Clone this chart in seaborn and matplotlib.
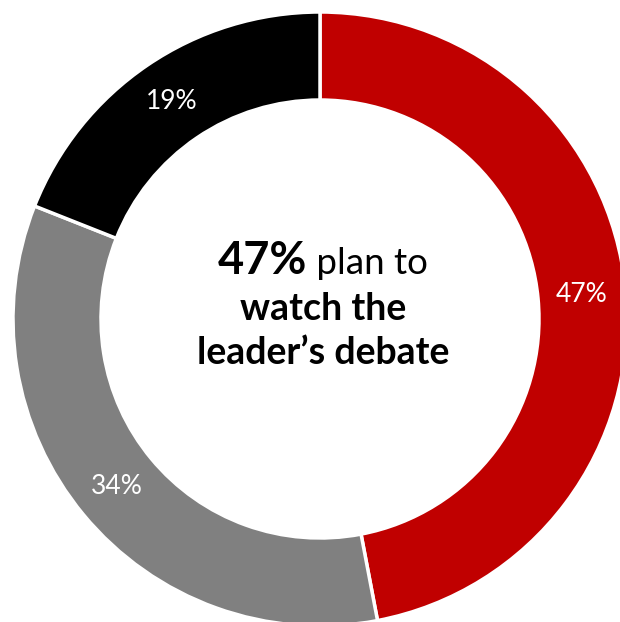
import matplotlib
matplotlib.use("Agg")
import matplotlib.pyplot as plt
import seaborn as sns

# Share of respondents by intention to watch the leaders' debate
categories = ["Plan to watch", "Do not plan to watch", "Unsure"]
shares = [47, 34, 19]
colors = ["#C00000", "#808080", "#000000"]

headline_value = "47%"
headline_rest = " plan to"
headline_lines = ["watch the", "leader\u2019s debate"]

sns.set_theme(style="white")
plt.rcParams["font.family"] = ["Lato", "DejaVu Sans"]

W, H, DPI = 620, 622, 100
fig = plt.figure(figsize=(W / DPI, H / DPI), dpi=DPI)
ax = fig.add_axes([0, 0, 1, 1])

R_PX = 307.0          # outer radius in pixels
CX, CY = 320.0, 319.0  # donut centre in pixels (from top-left)

wedges, _, autotexts = ax.pie(
    shares,
    colors=colors,
    startangle=90,
    counterclock=False,
    radius=1.0,
    autopct="%1.0f%%",
    pctdistance=0.857,
    wedgeprops=dict(width=88 / R_PX, edgecolor="white", linewidth=2.5),
    textprops=dict(color="white", fontsize=19),
)
ax.set_aspect("auto")
ax.set_xlim(-CX / R_PX, (W - CX) / R_PX)
ax.set_ylim(-(H - CY) / R_PX, CY / R_PX)
ax.axis("off")

# Centre headline
def px_to_data(x, y):
    return (x - CX) / R_PX, (CY - y) / R_PX

fig.canvas.draw()
renderer = fig.canvas.get_renderer()

xc = 323.0
y1 = 261.0
t_bold = ax.text(0, 0, headline_value, fontsize=32.5, fontweight="bold",
                 ha="left", va="center", color="black")
t_reg = ax.text(0, 0, headline_rest, fontsize=26.5,
                ha="left", va="center", color="black")
w_bold = t_bold.get_window_extent(renderer).width
w_reg = t_reg.get_window_extent(renderer).width
left = xc - (w_bold + w_reg) / 2
t_bold.set_position(px_to_data(left, y1))
t_reg.set_position(px_to_data(left + w_bold, y1 + 2))

for line, y in zip(headline_lines, [309.0, 353.0]):
    ax.text(*px_to_data(xc, y), line, fontsize=27, fontweight="bold",
            ha="center", va="center", color="black")

fig.savefig("out.png", dpi=DPI, facecolor="white")
